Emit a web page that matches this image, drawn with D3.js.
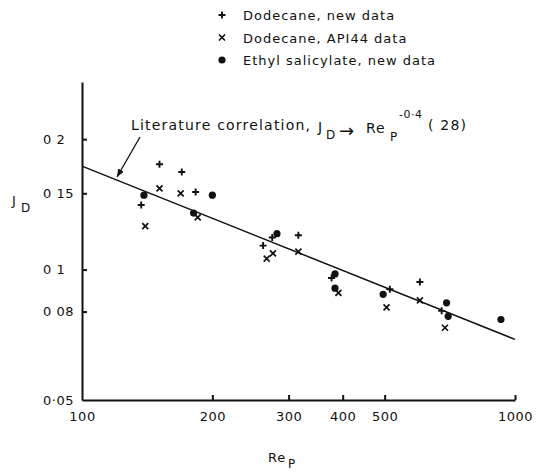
<!DOCTYPE html>
<html><head><meta charset="utf-8">
<script src="https://cdn.jsdelivr.net/npm/d3@7"></script>
<style>
body{margin:0;background:#fff}
text{font-family:"DejaVu Sans",sans-serif;fill:#111}
</style>
</head><body>
<svg id="c" width="541" height="472"></svg>
<script>
// ---- data ----
const xTicks = [100, 200, 300, 400, 500, 1000];
const xTickLabels = ["100", "200", "300", "400", "500", "1000"];
const yTicks = [0.05, 0.08, 0.1, 0.15, 0.2];
const yTickLabels = ["0·05", "0 08", "0 1", "0 15", "0 2"];

const dodecaneNewRe = [151, 170, 183, 137, 275, 316, 262, 377, 514, 603, 677];
const dodecaneNewJ  = [0.175, 0.168, 0.151, 0.141, 0.1186, 0.120, 0.1136, 0.0956, 0.0901, 0.0936, 0.0803];
const dodecaneApiRe = [151, 169, 185, 140, 276, 267, 316, 391, 505, 603, 689];
const dodecaneApiJ  = [0.154, 0.150, 0.132, 0.126, 0.109, 0.106, 0.110, 0.0884, 0.0818, 0.0849, 0.0734];
const ethylRe = [139, 200, 181, 282, 384, 384, 496, 695, 701, 928];
const ethylJ  = [0.1485, 0.1485, 0.135, 0.121, 0.0977, 0.0906, 0.0877, 0.0838, 0.078, 0.0767];

const corrRe = [100, 1000];
const corrJ  = [0.1733, 0.069];

const legendLabels = ["Dodecane, new data", "Dodecane, API44 data", "Ethyl salicylate, new data"];
const legendSymbols = ["plus", "cross", "dot"];

// ---- layout ----
const svg = d3.select("#c");
const x = d3.scaleLog().domain([100, 1000]).range([82, 515]);
const y = d3.scaleLog().domain([0.05, 0.271]).range([400, 82]);

const symPath = {
  plus: "M-3.5,0H3.5M0,-3.5V3.5",
  cross: "M-3,-3L3,3M-3,3L3,-3"
};
function drawSym(g, type) {
  if (type === "dot") {
    g.append("circle").attr("r", 3.6).attr("fill", "#111");
  } else {
    g.append("path").attr("d", symPath[type]).attr("stroke", "#111")
      .attr("stroke-width", type === "plus" ? 1.9 : 1.7).attr("fill", "none");
  }
}

// axes
const xAxis = d3.axisBottom(x).tickValues(xTicks)
  .tickFormat((d, i) => xTickLabels[i]).tickSizeInner(-5).tickSizeOuter(0).tickPadding(12);
const gx = svg.append("g").attr("transform", `translate(0,${y(0.05)})`).call(xAxis);
const yAxis = d3.axisLeft(y).tickValues(yTicks)
  .tickFormat((d, i) => yTickLabels[i]).tickSizeInner(-5).tickSizeOuter(0).tickPadding(8);
const gy = svg.append("g").attr("transform", `translate(${x(100)},0)`).call(yAxis);

[gx, gy].forEach(g => {
  g.select(".domain").attr("stroke", "#111").attr("stroke-width", 2);
  g.selectAll(".tick line").attr("stroke", "#111").attr("stroke-width", 2);
  g.selectAll(".tick text").attr("font-size", 13).attr("font-family", "DejaVu Sans")
    .attr("fill", "#111").attr("letter-spacing", 0.5);
});
gy.selectAll(".tick text").attr("text-anchor", "start").attr("x", 43 - x(100));
gy.selectAll(".tick").filter(d => d === 0.05).select("line").remove();
gx.selectAll(".tick").filter(d => d === 100).select("line").remove();

// correlation line
svg.append("path")
  .datum(corrRe.map((r, i) => [r, corrJ[i]]))
  .attr("d", d3.line().x(d => x(d[0])).y(d => y(d[1])))
  .attr("stroke", "#111").attr("stroke-width", 1.5).attr("fill", "none");

// points
function series(re, j, type) {
  re.forEach((r, i) => {
    const g = svg.append("g").attr("transform", `translate(${x(r)},${y(j[i])})`);
    drawSym(g, type);
  });
}
series(dodecaneNewRe, dodecaneNewJ, "plus");
series(dodecaneApiRe, dodecaneApiJ, "cross");
series(ethylRe, ethylJ, "dot");

// legend
const legY = [15, 37.5, 60];
legendLabels.forEach((lab, i) => {
  const g = svg.append("g").attr("transform", `translate(222,${legY[i]})`);
  drawSym(g, legendSymbols[i]);
  svg.append("text").attr("x", 243).attr("y", legY[i] + 5).attr("font-size", 13)
    .attr("letter-spacing", 1).text(lab);
});

// annotation
svg.append("defs").append("marker").attr("id", "ah")
  .attr("viewBox", "0 0 10 10").attr("refX", 10).attr("refY", 5)
  .attr("markerWidth", 8).attr("markerHeight", 8).attr("markerUnits", "userSpaceOnUse")
  .attr("orient", "auto")
  .append("path").attr("d", "M0,1L10,5L0,9Z").attr("fill", "#111");
svg.append("line").attr("x1", 140).attr("y1", 137).attr("x2", 117).attr("y2", 177)
  .attr("stroke", "#111").attr("stroke-width", 1.3).attr("marker-end", "url(#ah)");

const ann = svg.append("g").attr("font-size", 14).attr("letter-spacing", 1.2);
ann.append("text").attr("x", 131).attr("y", 130).text("Literature correlation,");
ann.append("text").attr("x", 318).attr("y", 132).text("J");
ann.append("text").attr("x", 326).attr("y", 139).attr("font-size", 12).text("D");
ann.append("text").attr("x", 339).attr("y", 137).attr("font-size", 18).attr("letter-spacing", 0).text("→");
ann.append("text").attr("x", 366).attr("y", 133).attr("letter-spacing", 0.8).text("Re");
ann.append("text").attr("x", 390).attr("y", 141).attr("font-size", 12).text("P");
ann.append("text").attr("x", 399).attr("y", 118).attr("font-size", 11).attr("letter-spacing", 0.5).text("-0·4");
ann.append("text").attr("x", 428).attr("y", 130).text("( 28)");

// axis titles
svg.append("text").attr("x", 12).attr("y", 205).attr("font-size", 13).text("J");
svg.append("text").attr("x", 21).attr("y", 212).attr("font-size", 12).text("D");
svg.append("text").attr("x", 268).attr("y", 462).attr("font-size", 13).attr("letter-spacing", 0.8).text("Re");
svg.append("text").attr("x", 288).attr("y", 468).attr("font-size", 12).text("P");
</script>
</body></html>
